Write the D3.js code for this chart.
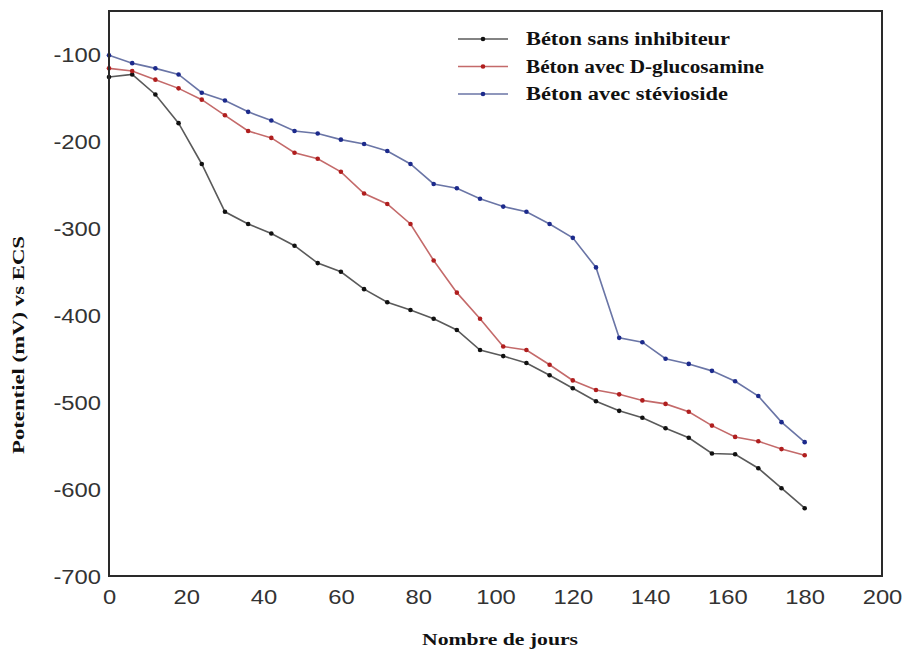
<!DOCTYPE html>
<html>
<head>
<meta charset="utf-8">
<script src="https://cdn.jsdelivr.net/npm/d3@7"></script>
<style>
  body { margin: 0; background: #fff; }
  svg { display: block; }
</style>
</head>
<body>
<svg id="chart" width="906" height="654"></svg>
<script>
// Measurement days
const days = [0, 6, 12, 18, 24, 30, 36, 42, 48, 54, 60, 66, 72, 78, 84, 90, 96, 102,
  108, 114, 120, 126, 132, 138, 144, 150, 156, 162, 168, 174, 180];

// Corrosion potential (mV vs ECS) for each concrete
const sansInhibiteur = [-126, -123, -146, -179, -226, -281, -295, -306, -320, -340, -350, -370, -385,
  -394, -404, -417, -440, -447, -455, -469, -484, -499, -510, -518, -530, -541, -559, -560, -576, -599, -622];
const dGlucosamine = [-116, -119, -129, -139, -152, -170, -188, -196, -213, -220, -235, -260, -272,
  -295, -337, -374, -404, -436, -440, -457, -475, -486, -491, -498, -502, -511, -527, -540, -545, -554, -561];
const stevioside = [-101, -110, -116, -123, -144, -153, -166, -176, -188, -191, -198, -203, -211,
  -226, -249, -254, -266, -275, -281, -295, -311, -345, -426, -431, -450, -456, -464, -476, -493, -523, -546];

const seriesNames = ["Béton sans inhibiteur", "Béton avec D-glucosamine", "Béton avec stévioside"];
const xTicks = [0, 20, 40, 60, 80, 100, 120, 140, 160, 180, 200];
const yTicks = [-100, -200, -300, -400, -500, -600, -700];

const styles = [
  { line: "#5a5a5a", dot: "#111111" },
  { line: "#c46a6a", dot: "#b01e1e" },
  { line: "#6a75a6", dot: "#1c2a8c" }
];
const seriesValues = [sansInhibiteur, dGlucosamine, stevioside];

const svg = d3.select("#chart");
const plotLeft = 109, plotRight = 882, plotTop = 11, plotBottom = 576;

const x = d3.scaleLinear().domain([0, 200]).range([plotLeft, plotRight]);
const y = d3.scaleLinear().domain([-700, -50]).range([plotBottom, plotTop]);

// plain ASCII hyphen for negative numbers
const plain = d => String(d);

// Axes (labels only, the frame is drawn separately)
const xAxis = svg.append("g")
  .attr("transform", `translate(0,${plotBottom})`)
  .call(d3.axisBottom(x).tickValues(xTicks).tickSize(0).tickPadding(0).tickFormat(plain));
xAxis.select(".domain").remove();
xAxis.selectAll("text")
  .attr("x", 0)
  .attr("y", 28)
  .attr("dy", 0)
  .attr("font-family", "Liberation Sans, Arial, sans-serif")
  .attr("font-size", 19.5)
  .attr("fill", "#333")
  .attr("transform", "scale(1.22,1)");

const yAxis = svg.append("g")
  .attr("transform", `translate(${plotLeft},0)`)
  .call(d3.axisLeft(y).tickValues(yTicks).tickSize(0).tickPadding(0).tickFormat(plain));
yAxis.select(".domain").remove();
yAxis.selectAll("text")
  .attr("x", -6.5)
  .attr("dy", "0.36em")
  .attr("font-family", "Liberation Sans, Arial, sans-serif")
  .attr("font-size", 19.5)
  .attr("fill", "#333")
  .attr("transform", "scale(1.22,1)");

// Series lines and markers
const line = d3.line().x((d, i) => x(days[i])).y(d => y(d));
seriesValues.forEach((vals, k) => {
  svg.append("path")
    .datum(vals)
    .attr("fill", "none")
    .attr("stroke", styles[k].line)
    .attr("stroke-width", 1.6)
    .attr("d", line);
  svg.append("g").selectAll("circle")
    .data(vals)
    .join("circle")
    .attr("cx", (d, i) => x(days[i]))
    .attr("cy", d => y(d))
    .attr("r", 2.3)
    .attr("fill", styles[k].dot);
});

// Plot frame
svg.append("rect")
  .attr("x", plotLeft).attr("y", plotTop)
  .attr("width", plotRight - plotLeft).attr("height", plotBottom - plotTop)
  .attr("fill", "none")
  .attr("stroke", "#2a2a2a")
  .attr("stroke-width", 2);

// Legend
const legendWidths = [204, 238, 202];
const legend = svg.append("g");
seriesNames.forEach((name, k) => {
  const ly = 39 + k * 27.5;
  legend.append("line")
    .attr("x1", 458).attr("x2", 508)
    .attr("y1", ly).attr("y2", ly)
    .attr("stroke", styles[k].line)
    .attr("stroke-width", 1.6);
  legend.append("circle")
    .attr("cx", 483).attr("cy", ly).attr("r", 2.3)
    .attr("fill", styles[k].dot);
  legend.append("text")
    .attr("x", 526).attr("y", ly + 6)
    .attr("font-family", "Liberation Serif, Times New Roman, serif")
    .attr("font-weight", "bold")
    .attr("font-size", 18)
    .attr("fill", "#111")
    .attr("textLength", legendWidths[k])
    .attr("lengthAdjust", "spacingAndGlyphs")
    .text(name);
});

// Axis titles
svg.append("text")
  .attr("x", 500).attr("y", 645)
  .attr("text-anchor", "middle")
  .attr("font-family", "Liberation Serif, Times New Roman, serif")
  .attr("font-weight", "bold")
  .attr("font-size", 16)
  .attr("fill", "#111")
  .attr("textLength", 156)
  .attr("lengthAdjust", "spacingAndGlyphs")
  .text("Nombre de jours");

svg.append("text")
  .attr("transform", "translate(24,345) rotate(-90)")
  .attr("text-anchor", "middle")
  .attr("font-family", "Liberation Serif, Times New Roman, serif")
  .attr("font-weight", "bold")
  .attr("font-size", 16)
  .attr("fill", "#111")
  .attr("textLength", 218)
  .attr("lengthAdjust", "spacingAndGlyphs")
  .text("Potentiel (mV) vs  ECS");
</script>
</body>
</html>
